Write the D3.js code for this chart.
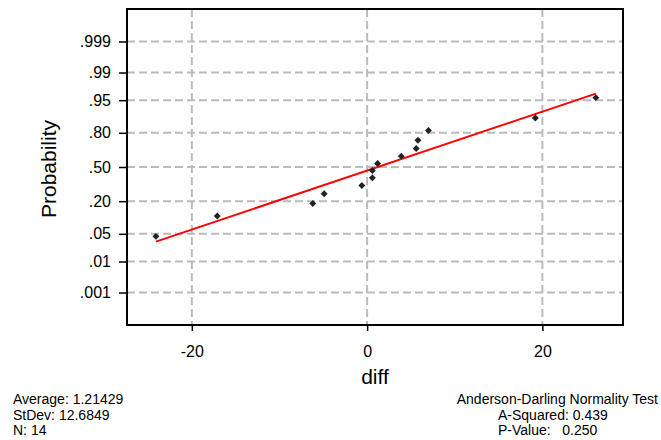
<!DOCTYPE html>
<html>
<head>
<meta charset="utf-8">
<script src="https://cdn.jsdelivr.net/npm/d3@7"></script>
<style>
  body { margin: 0; background: #fff; }
  svg { font-family: "Liberation Sans", Arial, sans-serif; }
  .stat { white-space: pre; }
</style>
</head>
<body>
<div id="chart"></div>
<script>
// data
const diffValues = [-24.1, -17.1, -6.2, -4.9, -0.6, 0.6, 0.6, 1.2, 3.9, 5.6, 5.8, 7.0, 19.2, 26.1];
const probTicks = [0.001, 0.01, 0.05, 0.20, 0.50, 0.80, 0.95, 0.99, 0.999];
const probLabels = [".001", ".01", ".05", ".20", ".50", ".80", ".95", ".99", ".999"];
const xTicks = [-20, 0, 20];
const statsLeft = ["Average: 1.21429", "StDev: 12.6849", "N: 14"];
const testTitle = "Anderson-Darling Normality Test";
const statsRight = ["A-Squared: 0.439", "P-Value:   0.250"];

// inverse normal cdf (Acklam)
const probit = p => {
    const a = [-3.969683028665376e+01, 2.209460984245205e+02, -2.759285104469687e+02, 1.383577518672690e+02, -3.066479806614716e+01, 2.506628277459239e+00];
    const b = [-5.447609879822406e+01, 1.615858368580409e+02, -1.556989798598866e+02, 6.680131188771972e+01, -1.328068155288572e+01];
    const c = [-7.784894002430293e-03, -3.223964580411365e-01, -2.400758277161838e+00, -2.549732539343734e+00, 4.374664141464968e+00, 2.938163982698783e+00];
    const d = [7.784695709041462e-03, 3.224671290700398e-01, 2.445134137142996e+00, 3.754408661907416e+00];
    const plow = 0.02425;
    let q, r;
    if (p < plow) {
        q = Math.sqrt(-2 * Math.log(p));
        return (((((c[0] * q + c[1]) * q + c[2]) * q + c[3]) * q + c[4]) * q + c[5]) / ((((d[0] * q + d[1]) * q + d[2]) * q + d[3]) * q + 1);
    }
    if (p <= 1 - plow) {
        q = p - 0.5; r = q * q;
        return (((((a[0] * r + a[1]) * r + a[2]) * r + a[3]) * r + a[4]) * r + a[5]) * q / (((((b[0] * r + b[1]) * r + b[2]) * r + b[3]) * r + b[4]) * r + 1);
    }
    q = Math.sqrt(-2 * Math.log(1 - p));
    return -(((((c[0] * q + c[1]) * q + c[2]) * q + c[3]) * q + c[4]) * q + c[5]) / ((((d[0] * q + d[1]) * q + d[2]) * q + d[3]) * q + 1);
};

const W = 661, H = 440;
const margin = { top: 9, right: 38, bottom: 115, left: 127 };
const width = W - margin.left - margin.right;
const height = H - margin.top - margin.bottom;

const svg = d3.select("#chart").append("svg")
    .attr("width", W)
    .attr("height", H);

const g = svg.append("g")
    .attr("transform", `translate(${margin.left},${margin.top})`);

const x = d3.scaleLinear().domain([-27.4, 29.2]).range([0, width]);
const y = d3.scaleLinear().domain([-3.89, 3.89]).range([height, 0]);

// plotting positions (Blom)
const n = diffValues.length;
const sorted = diffValues.slice().sort((a, b) => a - b);
const points = sorted.map((v, i) => ({ v, z: probit((i + 1 - 0.375) / (n + 0.25)) }));

// least-squares fit of z on x
const mx = d3.mean(sorted);
const sxz = d3.sum(points, p => (p.v - mx) * p.z);
const sxx = d3.sum(points, p => (p.v - mx) * (p.v - mx));
const slope = sxz / sxx;
const fitZ = v => slope * (v - mx);

// grid
g.append("g")
    .selectAll("line")
    .data(probTicks)
    .join("line")
    .attr("x1", 0).attr("x2", width)
    .attr("y1", d => y(probit(d))).attr("y2", d => y(probit(d)))
    .attr("stroke", "#bbb").attr("stroke-width", 2).attr("stroke-dasharray", "8,4");

g.append("g")
    .selectAll("line")
    .data(xTicks)
    .join("line")
    .attr("y1", 0).attr("y2", height)
    .attr("x1", d => x(d)).attr("x2", d => x(d))
    .attr("stroke", "#bbb").attr("stroke-width", 2).attr("stroke-dasharray", "8,4");

// axes
const yAxis = g.append("g")
    .call(d3.axisLeft(y)
        .tickValues(probTicks.map(probit))
        .tickFormat((d, i) => probLabels[i])
        .tickSize(8).tickPadding(8));

const xAxis = g.append("g")
    .attr("transform", `translate(0,${height})`)
    .call(d3.axisBottom(x).tickValues(xTicks).tickFormat(d => String(d))
        .tickSize(6).tickPadding(15));

[yAxis, xAxis].forEach(ax => {
    ax.select(".domain").remove();
    ax.selectAll("line").attr("stroke", "#000").attr("stroke-width", 1.5);
    ax.selectAll("text").attr("font-size", 16).attr("fill", "#000")
        .attr("font-family", '"Liberation Sans", Arial, sans-serif');
});

// fitted line
g.append("line")
    .attr("x1", x(sorted[0])).attr("y1", y(fitZ(sorted[0])))
    .attr("x2", x(sorted[n - 1])).attr("y2", y(fitZ(sorted[n - 1])))
    .attr("stroke", "#ff0000").attr("stroke-width", 2);

// points
g.append("g")
    .selectAll("path")
    .data(points)
    .join("path")
    .attr("d", d3.symbol(d3.symbolSquare, 24))
    .attr("transform", d => `translate(${x(d.v)},${y(d.z)}) rotate(45)`)
    .attr("fill", "#222");

// frame
g.append("rect")
    .attr("width", width).attr("height", height)
    .attr("fill", "none").attr("stroke", "#000").attr("stroke-width", 2);

// titles
svg.append("text")
    .attr("x", margin.left + width / 2).attr("y", 384)
    .attr("text-anchor", "middle").attr("font-size", 21)
    .text("diff");

svg.append("text")
    .attr("transform", `translate(56,${margin.top + height / 2 + 2}) rotate(-90)`)
    .attr("text-anchor", "middle").attr("font-size", 21)
    .text("Probability");

// stats text
svg.append("g")
    .selectAll("text")
    .data(statsLeft)
    .join("text")
    .attr("class", "stat")
    .attr("x", 13).attr("y", (d, i) => 404 + i * 15.5)
    .attr("font-size", 14)
    .text(d => d);

svg.append("text")
    .attr("x", 658).attr("y", 404)
    .attr("text-anchor", "end").attr("font-size", 14)
    .text(testTitle);

svg.append("g")
    .selectAll("text")
    .data(statsRight)
    .join("text")
    .attr("class", "stat")
    .attr("x", 498).attr("y", (d, i) => 419.5 + i * 15.5)
    .attr("font-size", 14)
    .text(d => d);
</script>
</body>
</html>
